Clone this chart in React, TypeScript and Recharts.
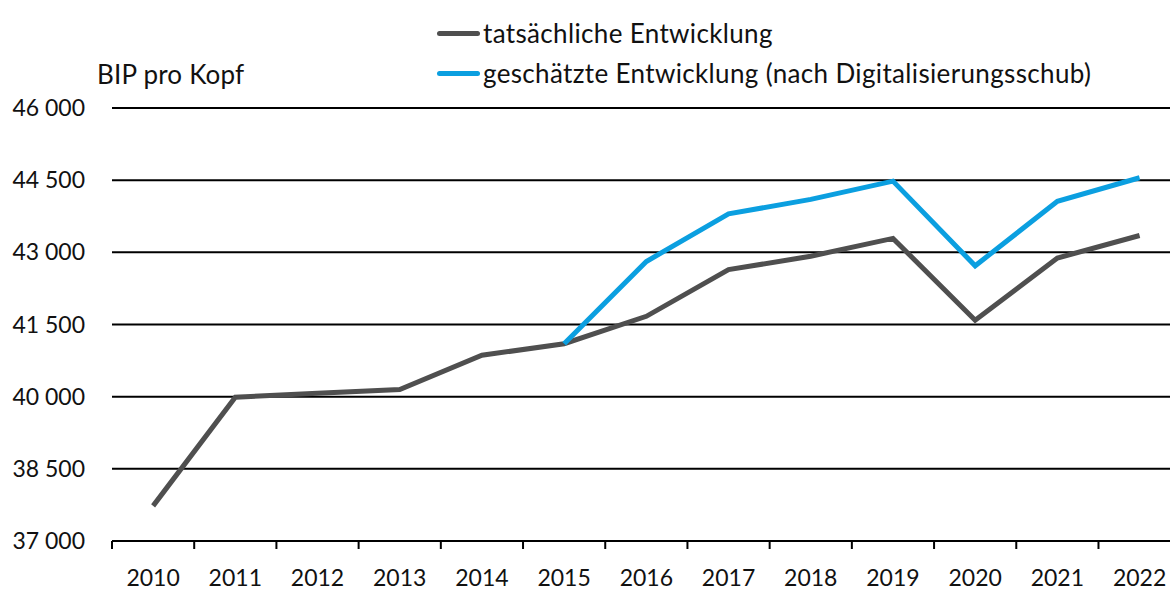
import React from "react";
import {
  LineChart,
  Line,
  XAxis,
  YAxis,
  CartesianGrid,
  Legend,
} from "recharts";

// Jahre und Werte (BIP pro Kopf)
const years = [
  "2010", "2011", "2012", "2013", "2014", "2015", "2016",
  "2017", "2018", "2019", "2020", "2021", "2022",
];
const actual = [
  37730, 39990, 40070, 40150, 40860, 41100, 41670,
  42640, 42920, 43290, 41590, 42880, 43350,
];
const estimated = [
  null, null, null, null, null, 41100, 42810,
  43800, 44100, 44480, 42720, 44060, 44550,
];
const yTicks = [37000, 38500, 40000, 41500, 43000, 44500, 46000];

const FONT = "Lato, 'Noto Sans', sans-serif";
const GREY = "#4f4f4f";
const BLUE = "#0b9fe0";

const data = years.map((y, i) => ({
  i,
  year: y,
  actual: actual[i],
  estimated: estimated[i],
}));

// Grenzen zwischen den Jahren (Striche an der x-Achse)
const boundaryTicks = years.map((_, i) => i - 0.5);
const centerTicks = years.map((_, i) => i);
// das Original ist rechts knapp hinter 2022 abgeschnitten
const xDomain = [-0.5, 12.37];

const fmt = (v: number) =>
  String(v).replace(/\B(?=(\d{3})+(?!\d))/g, " ");

const legendItems = [
  { label: "tatsächliche Entwicklung", color: GREY },
  { label: "geschätzte Entwicklung (nach Digitalisierungsschub)", color: BLUE },
];

const textStyle = {
  fontFamily: FONT,
  fontSize: 26,
  letterSpacing: 0.35,
  color: "#111",
};

function LegendBox() {
  return (
    <div style={textStyle}>
      {legendItems.map((it) => (
        <div
          key={it.label}
          style={{ display: "flex", alignItems: "center", height: 40, whiteSpace: "nowrap" }}
        >
          <span
            style={{
              display: "inline-block",
              width: 43,
              height: 5,
              borderRadius: 3,
              background: it.color,
              marginRight: 3,
            }}
          />
          {it.label}
        </div>
      ))}
    </div>
  );
}

export default function App() {
  return (
    <div
      style={{
        position: "fixed",
        left: 0,
        top: 0,
        width: 1170,
        height: 590,
        overflow: "hidden",
        background: "#fff",
      }}
    >
      <div
        style={{
          ...textStyle,
          letterSpacing: 0.2,
          position: "absolute",
          left: 97,
          top: 59,
          lineHeight: "30px",
          zIndex: 1,
        }}
      >
        BIP pro Kopf
      </div>
      <LineChart
        width={1170}
        height={590}
        data={data}
        margin={{ top: 108, right: 0, bottom: 0, left: 0 }}
      >
        <CartesianGrid
          horizontal
          vertical={false}
          stroke="#000"
          strokeWidth={2}
        />
        <XAxis
          xAxisId="a"
          dataKey="i"
          type="number"
          domain={xDomain}
          ticks={boundaryTicks}
          tickFormatter={() => ""}
          height={1}
          tickSize={8}
          axisLine={{ stroke: "#000", strokeWidth: 2 }}
          tickLine={{ stroke: "#000", strokeWidth: 2 }}
          allowDataOverflow
        />
        <XAxis
          xAxisId="b"
          dataKey="i"
          type="number"
          domain={xDomain}
          ticks={centerTicks}
          tickFormatter={(v: number) => years[v]}
          height={48}
          axisLine={false}
          tickLine={false}
          tickSize={0}
          tickMargin={28}
          interval={0}
          allowDataOverflow
          tick={{ fontFamily: FONT, fontSize: 23, fill: "#111" }}
        />
        <YAxis
          domain={[37000, 46000]}
          ticks={yTicks}
          tickFormatter={fmt}
          width={112}
          axisLine={false}
          tickLine={false}
          tickSize={0}
          tickMargin={27}
          interval={0}
          tick={{ fontFamily: FONT, fontSize: 23, fill: "#111" }}
        />
        <Legend
          layout="horizontal"
          verticalAlign="middle"
          align="center"
          content={() => <LegendBox />}
          wrapperStyle={{ left: 437, top: 13, width: 730, height: 84 }}
        />
        <Line
          xAxisId="a"
          dataKey="actual"
          stroke={GREY}
          strokeWidth={5}
          dot={false}
          activeDot={false}
          isAnimationActive={false}
          legendType="none"
        />
        <Line
          xAxisId="a"
          dataKey="estimated"
          stroke={BLUE}
          strokeWidth={5}
          dot={false}
          activeDot={false}
          connectNulls={false}
          isAnimationActive={false}
          legendType="none"
        />
      </LineChart>
    </div>
  );
}
